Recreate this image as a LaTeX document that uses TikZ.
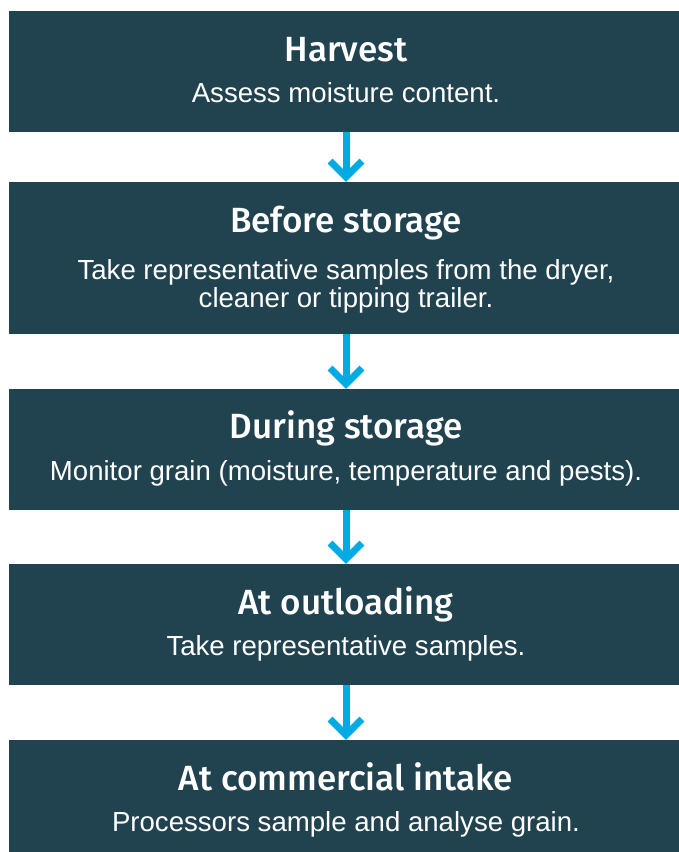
\documentclass[tikz,border=0pt]{standalone}
\usepackage{fontspec}
\setmainfont{Liberation Sans}
\newfontfamily\titlefont{Fira Sans}[UprightFont={* Medium}]
\definecolor{boxc}{HTML}{21434F}
\definecolor{arrc}{HTML}{00ABE4}
\begin{document}
\begin{tikzpicture}[x=1pt,y=-1pt,
  box/.style={fill=boxc, inner sep=0pt, minimum width=674pt, anchor=north},
  ttl/.style={text=white, font=\titlefont\fontsize{35}{40}\selectfont, anchor=base, inner sep=0pt},
  sub/.style={text=white, font=\fontsize{27.6}{28}\selectfont, anchor=base, inner sep=0pt, align=center},
  shaft/.style={draw=arrc, line width=7pt},
  chev/.style={draw=arrc, line width=7pt, miter limit=10}]
\useasboundingbox (0,0) rectangle (678,852);
% boxes
\node[box, minimum height=121pt] (b1) at (346,11) {};
\node[box, minimum height=152pt] (b2) at (346,182) {};
\node[box, minimum height=121pt] (b3) at (346,389) {};
\node[box, minimum height=121pt] (b4) at (346,564) {};
\node[box, minimum height=130pt] (b5) at (346,740) {};
% texts
\node[ttl] (t1) at (346,61) {Harvest};
\node[sub] (s1) at (346,102) {Assess moisture content.};
\node[ttl] (t2) at (346,232) {Before storage};
\node[sub] (s2) at (346,307) {Take representative samples from the dryer,\\cleaner or tipping trailer.};
\node[ttl] (t3) at (346,438) {During storage};
\node[sub] (s3) at (346,480) {Monitor grain (moisture, temperature and pests).};
\node[ttl] (t4) at (346,614) {At outloading};
\node[sub] (s4) at (346,655) {Take representative samples.};
\node[ttl] (t5) at (346,790) {At commercial intake};
\node[sub] (s5) at (346,831) {Processors sample and analyse grain.};
% arrows
\foreach \a/\b in {b1/b2, b2/b3, b3/b4, b4/b5}{
  \coordinate (v\b) at ([yshift=5pt]\b.north);
  \draw[shaft] (\a.south) -- (v\b);
  \draw[chev] ([shift={(-16pt,16pt)}]v\b) -- (v\b) -- ([shift={(16pt,16pt)}]v\b);
}
\end{tikzpicture}
\end{document}
